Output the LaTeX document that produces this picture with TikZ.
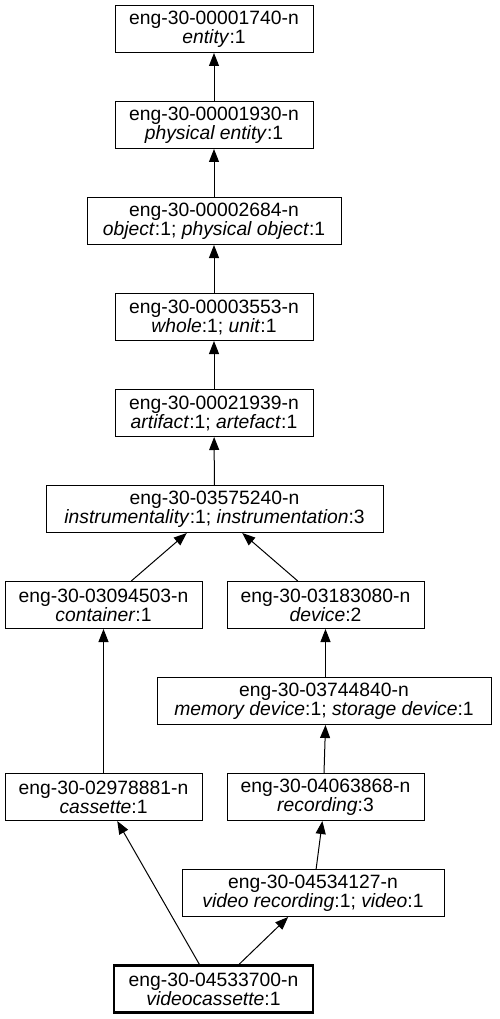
\documentclass[tikz,border=0pt]{standalone}
\usepackage{fontspec}
\setmainfont{Liberation Sans}
\usetikzlibrary{arrows.meta}
\begin{document}
\begin{tikzpicture}[x=1pt,y=-1pt,
  box/.style={draw, line width=1pt, inner sep=0pt, minimum height=47pt, align=center,
    font=\fontsize{19.3}{19}\selectfont},
  edge/.style={-{Triangle[length=13pt,width=10pt]}, line width=1pt}]
\useasboundingbox (0,0) rectangle (499,1019);
\node[box, minimum width=198pt] (n1) at (214,29) {eng-30-00001740-n\\\textit{entity}:1};
\node[box, minimum width=198pt] (n2) at (214,125) {eng-30-00001930-n\\\textit{physical entity}:1};
\node[box, minimum width=254pt] (n3) at (214,221) {eng-30-00002684-n\\\textit{object}:1; \textit{physical object}:1};
\node[box, minimum width=198pt] (n4) at (214,317) {eng-30-00003553-n\\\textit{whole}:1; \textit{unit}:1};
\node[box, minimum width=198pt] (n5) at (214,413) {eng-30-00021939-n\\\textit{artifact}:1; \textit{artefact}:1};
\node[box, minimum width=337pt] (n6) at (214.5,509) {eng-30-03575240-n\\\textit{instrumentality}:1; \textit{instrumentation}:3};
\node[box, minimum width=197pt] (n7) at (103.5,605) {eng-30-03094503-n\\\textit{container}:1};
\node[box, minimum width=197pt] (n8) at (325.5,605) {eng-30-03183080-n\\\textit{device}:2};
\node[box, minimum width=334pt] (n9) at (324,701) {eng-30-03744840-n\\\textit{memory device}:1; \textit{storage device}:1};
\node[box, minimum width=197pt] (n10) at (103.5,797) {eng-30-02978881-n\\\textit{cassette}:1};
\node[box, minimum width=197pt] (n11) at (325.5,797) {eng-30-04063868-n\\\textit{recording}:3};
\node[box, minimum width=262pt] (n12) at (313,893) {eng-30-04534127-n\\\textit{video recording}:1; \textit{video}:1};
\node[box, line width=2.5pt, minimum width=199pt] (n13) at (213.5,989) {eng-30-04533700-n\\\textit{videocassette}:1};
\draw[edge] (n2) -- (n1);
\draw[edge] (n3) -- (n2);
\draw[edge] (n4) -- (n3);
\draw[edge] (n5) -- (n4);
\draw[edge] (n6) -- (n5);
\draw[edge] (n7) -- (n6);
\draw[edge] (n8) -- (n6);
\draw[edge] (n9.north -| n8.south) -- (n8);
\draw[edge] (n10) -- (n7);
\draw[edge] (n11.north -| n9.south) -- (n9.south -| n11.north);
\draw[edge] (n12) -- (n11);
\draw[edge] (n13) -- (n10);
\draw[edge] (n13) -- (n12);
\end{tikzpicture}
\end{document}
